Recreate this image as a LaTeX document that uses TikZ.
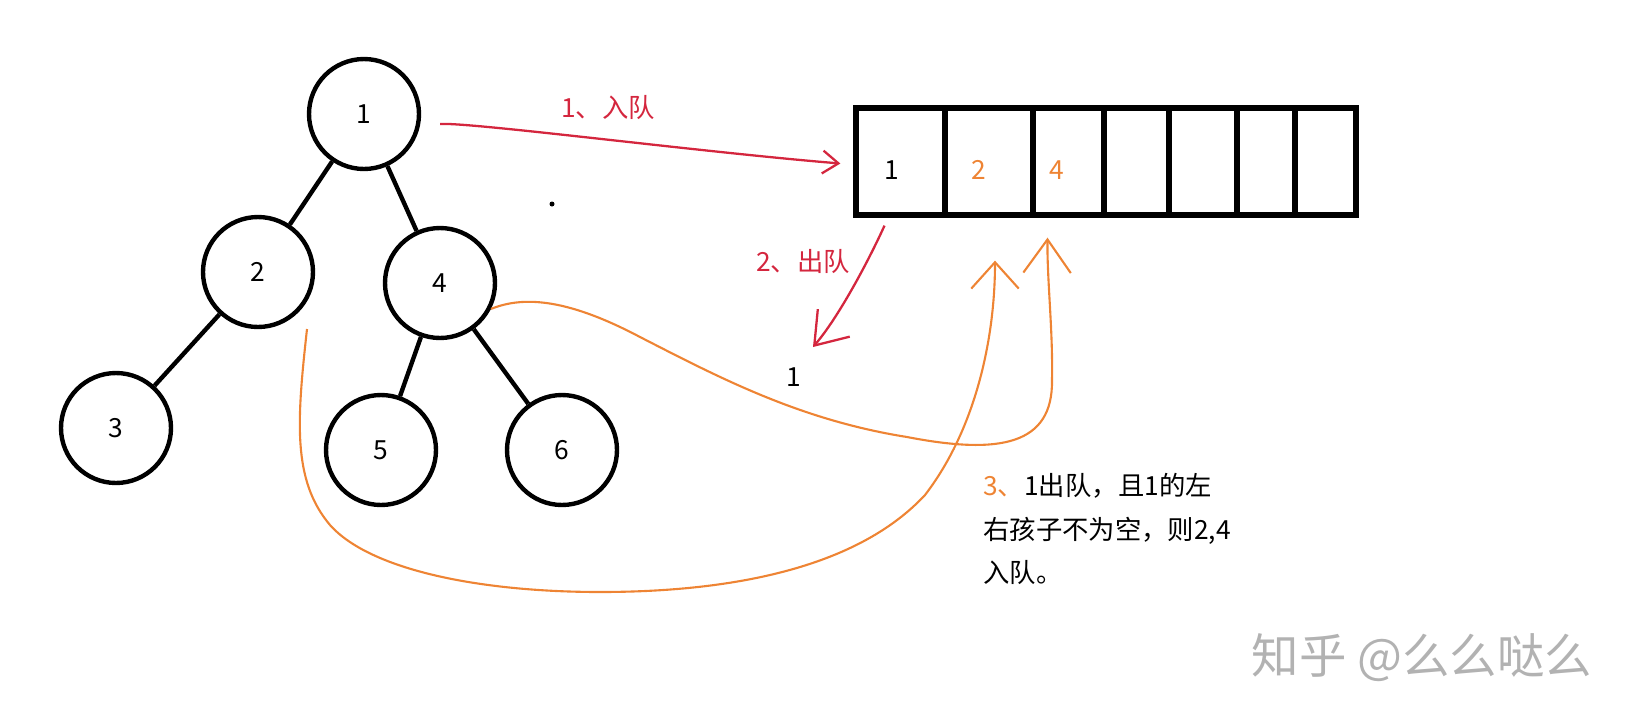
\documentclass[tikz,border=0pt]{standalone}
\usepackage{fontspec}
\setmainfont{Noto Sans CJK SC}
\usetikzlibrary{arrows.meta,calc}
\definecolor{penred}{RGB}{212,38,62}
\definecolor{penorange}{RGB}{238,132,52}
\begin{document}
\begin{tikzpicture}[x=0.02cm, y=-0.02cm, font=\fontsize{15pt}{25pt}\selectfont,
  tnode/.style={draw,circle,line width=2.5pt,minimum size=2.2cm,inner sep=0pt},
  tedge/.style={line width=2.5pt},
  qcell/.style={draw,line width=3pt,minimum height=2.14cm,inner sep=0pt},
  redpen/.style={draw=penred,line width=1.3pt},
  orangepen/.style={draw=penorange,line width=1.2pt}]
\useasboundingbox (0,0) rectangle (1641,724);
% tree
\node[tnode] (n1) at (364,114) {1};
\node[tnode] (n2) at (258,272) {2};
\node[tnode] (n4) at (440,283) {4};
\node[tnode] (n3) at (116,428) {3};
\node[tnode] (n5) at (381,450) {5};
\node[tnode] (n6) at (562,450) {6};
\draw[tedge] (n1) -- (n2); \draw[tedge] (n1) -- (n4); \draw[tedge] (n2) -- (n3);
\draw[tedge] (n4) -- (n5); \draw[tedge] (n4) -- (n6);
\fill (552,204) circle (2.5);
% queue
\foreach \i/\xa/\xb in {1/856/945,2/945/1033,3/1033/1104,4/1104/1169,5/1169/1237,6/1237/1295,7/1295/1356}
  \node[qcell,minimum width={(\xb-\xa)*0.02cm}] (c\i) at ({(\xa+\xb)/2},161.5) {};
\node (q1) at (892,170) {1};
\node[text=penorange] (q2) at (979,170) {2};
\node[text=penorange] (q4) at (1057,170) {4};
% steps
\node[text=penred] (lab1) at (608,108) {1、入队};
\node[text=penred] (lab2) at (803,262) {2、出队};
\node (pop) at (794,377) {1};
\node[align=left,anchor=west,inner sep=0pt] (lab3) at (983,529)
  {\textcolor{penorange}{3、}1出队，且1的左\\右孩子不为空，则2,4\\入队。};
\draw[redpen,-{Straight Barb[length=9pt,width=13pt]}] ($(n1.east)+(19,10)$)
  .. controls (470,122) and (700,152) .. ($(c1.west)+(-13,2)$);
\draw[redpen,-{Straight Barb[length=17pt,width=24pt]}] ($(c1.south)+(-16,8)$)
  .. controls (868,262) and (838,318) .. ($(pop)+(19,-30)$);
\draw[orangepen,-{Straight Barb[length=15pt,width=27pt]}] ($(n2)+(49,57)$)
  .. controls (297,420) and (292,480) .. (330,525) .. controls (370,570) and (480,592) .. (600,592)
  .. controls (740,592) and (860,565) .. (925,495) .. controls (975,430) and (995,340) .. ($(c2.south)+(6,43)$);
\draw[orangepen,-{Straight Barb[length=19pt,width=27pt]}] (n4.-27)
  .. controls (525,295) and (570,300) .. (640,337) .. controls (720,378) and (800,420) .. (907,437)
  .. controls (1000,455) and (1053,445) .. (1052,380) .. controls (1053,330) and (1047,280) .. ($(c3.south)+(-21,20)$);
% watermark
\node[text=black!30,font=\fontsize{27pt}{30pt}\selectfont] (mark) at (1422,658) {知乎 @么么哒么};
\end{tikzpicture}
\end{document}
